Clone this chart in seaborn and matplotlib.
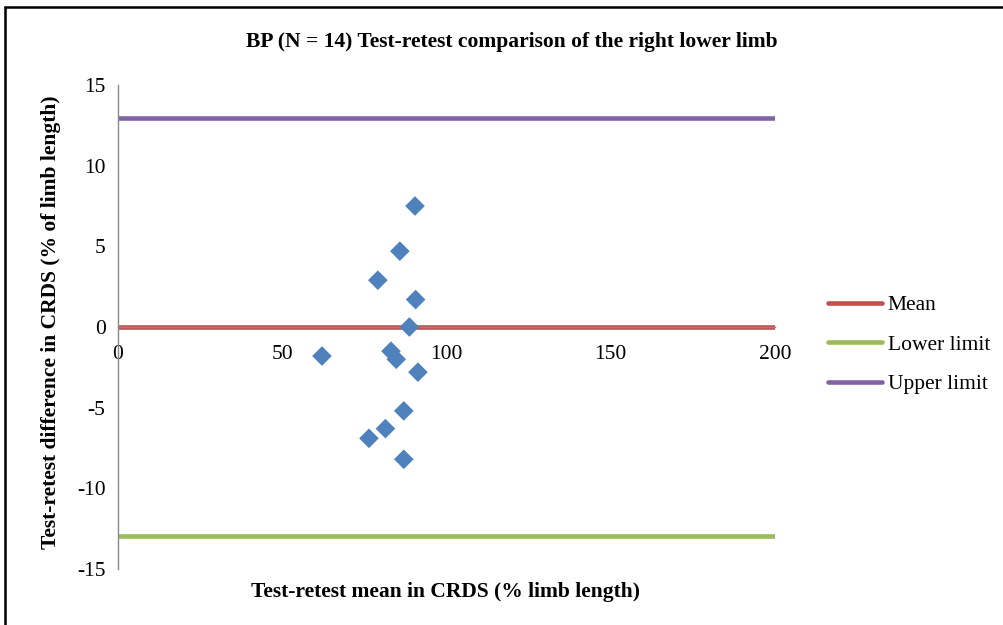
import matplotlib
matplotlib.use("Agg")
import matplotlib.pyplot as plt
from matplotlib.lines import Line2D
import seaborn as sns
import pandas as pd

# Test-retest means (x) and differences (y), % limb length
test_mean = [90.4, 85.8, 79.1, 90.6, 88.7, 62.1, 83.1, 84.7, 91.3, 87.0, 81.4, 76.4, 87.0]
test_diff = [7.5, 4.7, 2.9, 1.7, 0.0, -1.8, -1.5, -2.0, -2.8, -5.2, -6.3, -6.9, -8.2]

# Agreement lines
mean_diff = 0.0
lower_limit = -12.95
upper_limit = 12.95
line_x = [0, 200]

x_ticks = [0, 50, 100, 150, 200]
y_ticks = [-15, -10, -5, 0, 5, 10, 15]

sns.set_theme(style="white")
plt.rcParams["font.family"] = ["Liberation Serif", "DejaVu Serif"]
plt.rcParams["text.color"] = "black"
plt.rcParams["axes.labelcolor"] = "black"

FS = 15.5

fig = plt.figure(figsize=(10.04, 6.25), dpi=100)
ax = fig.add_axes([118 / 1004, 1 - 569 / 625, (775 - 118) / 1004, (569 - 85) / 625])

lines_df = pd.DataFrame({
    "x": line_x * 3,
    "y": [mean_diff] * 2 + [lower_limit] * 2 + [upper_limit] * 2,
    "series": ["Mean"] * 2 + ["Lower limit"] * 2 + ["Upper limit"] * 2,
})
palette = {"Mean": "#C0504D", "Lower limit": "#9BBB59", "Upper limit": "#8064A2"}
sns.lineplot(data=lines_df, x="x", y="y", hue="series", palette=palette,
             linewidth=3.3, ax=ax, legend=False, solid_capstyle="round", zorder=2)

sns.scatterplot(x=test_mean, y=test_diff, marker="D", s=100, color="#4F81BD",
                edgecolor="none", ax=ax, zorder=3)

ax.set_xlim(0, 200)
ax.set_ylim(-15, 15)
ax.set_xticks(x_ticks)
ax.set_yticks(y_ticks)
ax.set_xticklabels([str(v) for v in x_ticks])
ax.set_yticklabels([str(v) for v in y_ticks])

for side in ["top", "right"]:
    ax.spines[side].set_visible(False)
ax.spines["bottom"].set_position(("data", 0))
for side in ["left", "bottom"]:
    ax.spines[side].set_color("#898989")
    ax.spines[side].set_linewidth(1.0)

ax.tick_params(axis="both", which="both", direction="out", length=5, width=1,
               color="#898989", labelsize=FS, labelcolor="black")
ax.tick_params(axis="x", pad=8)
ax.tick_params(axis="y", pad=4)
ax.grid(False)

ax.set_xlabel("Test-retest mean in CRDS (% limb length)", fontsize=FS, fontweight="bold")
ax.set_ylabel("Test-retest difference in CRDS (% of limb length)", fontsize=FS, fontweight="bold")
ax.xaxis.set_label_coords(0.498, -0.026)
ax.yaxis.set_label_coords(-0.086, 0.51)

fig.text(512 / 1004, 1 - 42 / 625, "BP (N = 14) Test-retest comparison of the right lower limb",
         ha="center", va="center", fontsize=FS, fontweight="bold")

handles = [Line2D([0], [0], color=palette[k], linewidth=3.3, solid_capstyle="round")
           for k in ["Mean", "Lower limit", "Upper limit"]]
fig.legend(handles, ["Mean", "Lower limit", "Upper limit"], loc="upper left",
           bbox_to_anchor=(828 / 1004, 1 - 295 / 625), frameon=False, fontsize=FS,
           handlelength=2.5, handletextpad=0.28, labelspacing=0.91, borderaxespad=0,
           borderpad=0)

# Frame lines on the top and left edges of the figure
fig.add_artist(Line2D([5 / 1004, 1.0], [1 - 7 / 625, 1 - 7 / 625], color="black",
                      linewidth=1.8, transform=fig.transFigure))
fig.add_artist(Line2D([5 / 1004, 5 / 1004], [0.0, 1 - 7 / 625], color="black",
                      linewidth=1.8, transform=fig.transFigure))

fig.savefig("out.png", dpi=100)
